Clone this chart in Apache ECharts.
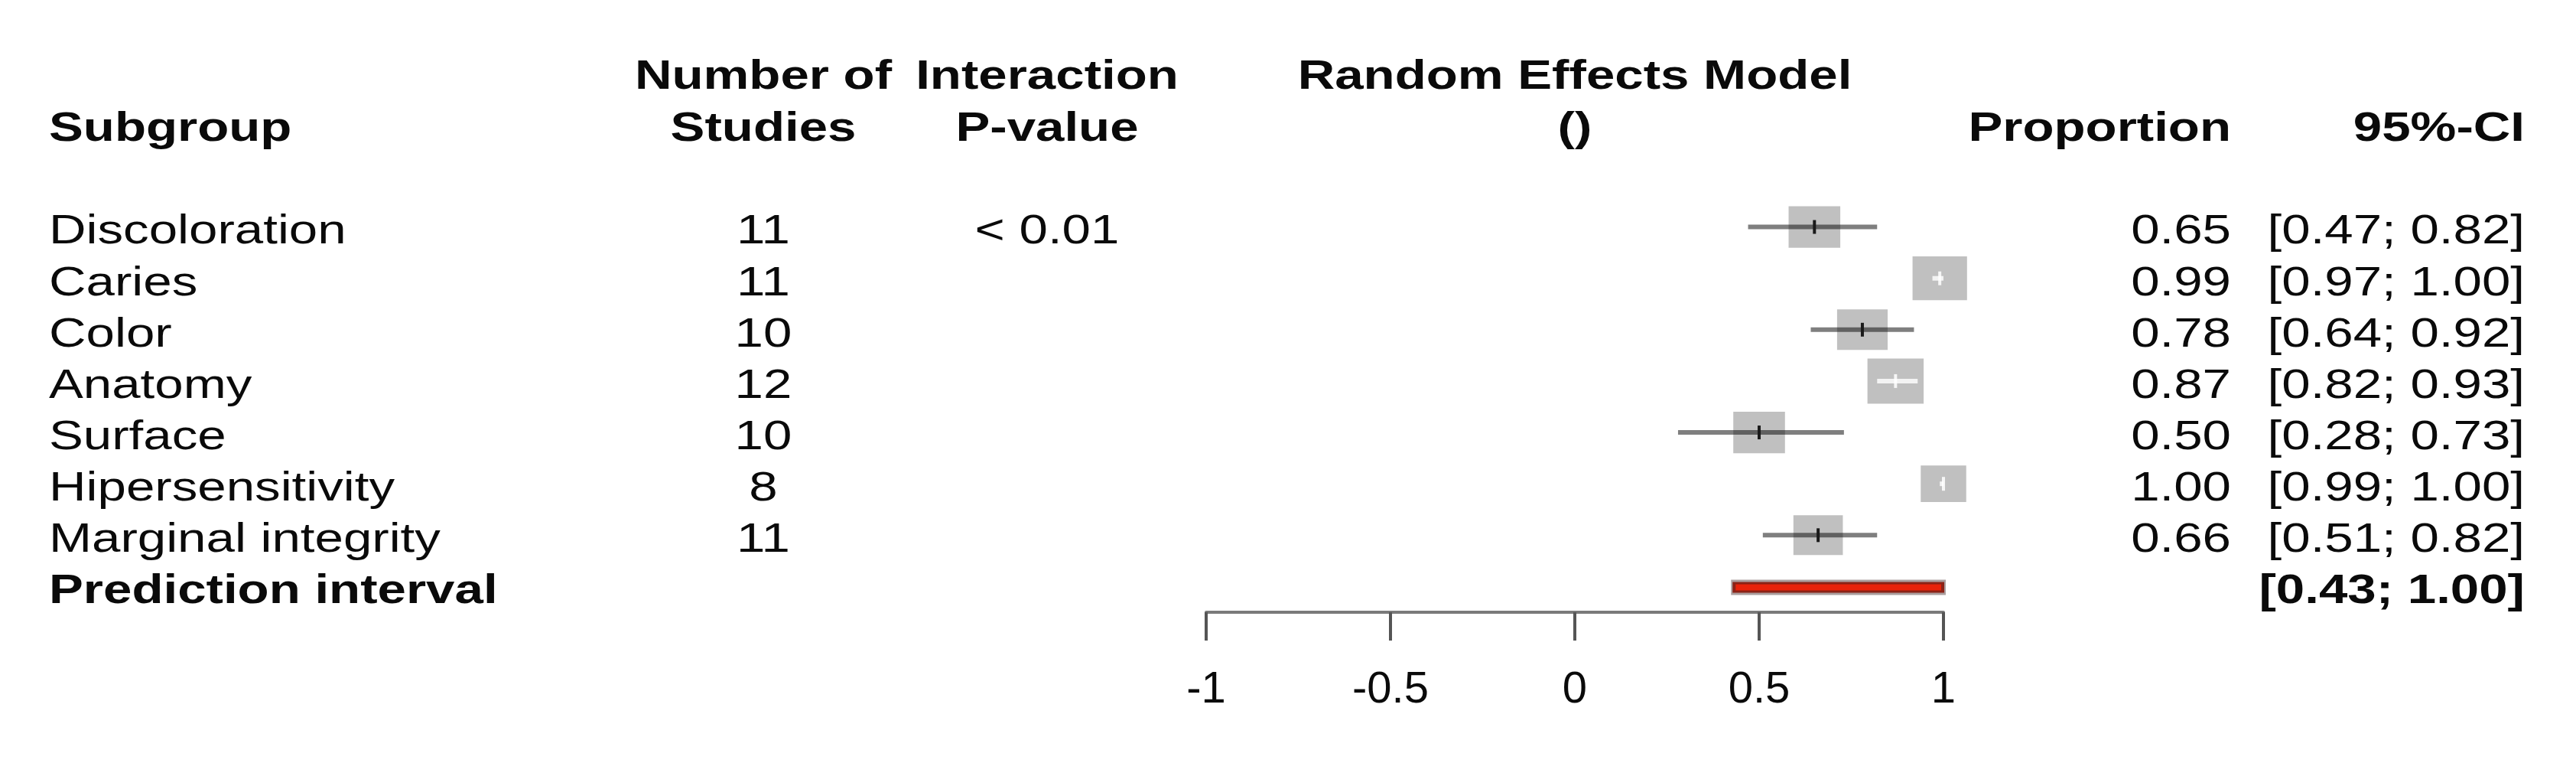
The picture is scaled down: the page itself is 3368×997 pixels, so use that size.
<!DOCTYPE html>
<html>
<head>
<meta charset="utf-8">
<style>
html,body{margin:0;padding:0;background:#ffffff;}
#chart{width:3368px;height:997px;}
</style>
<script src="https://cdn.jsdelivr.net/npm/echarts@6/dist/echarts.min.js"></script>
</head>
<body>
<div id="chart"></div>
<script>
// ---------------- data ----------------
const subgroups = ['Discoloration', 'Caries', 'Color', 'Anatomy', 'Surface', 'Hipersensitivity', 'Marginal integrity'];
const studies = [11, 11, 10, 12, 10, 8, 11];
const interactionP = ['< 0.01', '', '', '', '', '', ''];
const proportion = [0.65, 0.99, 0.78, 0.87, 0.50, 1.00, 0.66];
const ciLower = [0.47, 0.97, 0.64, 0.82, 0.28, 0.99, 0.51];
const ciUpper = [0.82, 1.00, 0.92, 0.93, 0.73, 1.00, 0.82];
const relWeight = [0.92, 0.97, 0.90, 1.00, 0.92, 0.81, 0.88];
const predLabel = 'Prediction interval';
const predInterval = [0.43, 1.00];
const xTickValues = [-1, -0.5, 0, 0.5, 1];
const headerTop = ['Number of', 'Interaction', 'Random Effects Model'];
const headerBottom = ['Subgroup', 'Studies', 'P-value', '()', 'Proportion', '95%-CI'];

// ---------------- layout / style ----------------
const rows = subgroups.concat([predLabel]);
const FONT = "'Liberation Sans', Arial, Helvetica, sans-serif";
const FS = 54;
const SX = 1.245;           // horizontal stretch of the reference
const TXT = '#0a0a0a';
const COL = { name: 64, studies: 998, p: 1369, model: 2059, prop: 2917, ci: 3301 };
const HEAD_Y1 = 101, HEAD_Y2 = 169;

function txt(x, y, text, align, bold) {
  return {
    type: 'text', x: x, y: y, scaleX: SX, silent: true,
    style: {
      text: text, x: 0, y: 0, fill: TXT, fontSize: FS, fontFamily: FONT,
      fontWeight: bold ? 'bold' : 'normal', align: align, verticalAlign: 'middle'
    }
  };
}

const fmt2 = v => v.toFixed(2);
const fmtCI = (a, b) => '[' + fmt2(a) + '; ' + fmt2(b) + ']';

const chart = echarts.init(document.getElementById('chart'), null, { renderer: 'canvas' });

const option = {
  backgroundColor: '#ffffff',
  animation: false,
  grid: { left: 1577, width: 964, top: 263, height: 537, containLabel: false },
  xAxis: {
    type: 'value', min: -1, max: 1, interval: 0.5, position: 'bottom',
    axisLine: { show: true, lineStyle: { color: '#7a7a7a', width: 4 } },
    axisTick: { show: true, length: 37, lineStyle: { color: '#555555', width: 4 } },
    axisLabel: {
      show: true, margin: 73, color: TXT, fontSize: 58, fontFamily: FONT,
      formatter: v => (xTickValues.indexOf(v) >= 0 ? String(v) : '')
    },
    splitLine: { show: false }
  },
  yAxis: {
    type: 'category', data: rows, inverse: true, show: false,
    boundaryGap: true
  },
  graphic: {
    elements: [
      txt(COL.name, HEAD_Y2, headerBottom[0], 'left', true),
      txt(COL.studies, HEAD_Y1, headerTop[0], 'center', true),
      txt(COL.studies, HEAD_Y2, headerBottom[1], 'center', true),
      txt(COL.p, HEAD_Y1, headerTop[1], 'center', true),
      txt(COL.p, HEAD_Y2, headerBottom[2], 'center', true),
      txt(COL.model, HEAD_Y1, headerTop[2], 'center', true),
      txt(COL.model, HEAD_Y2, headerBottom[3], 'center', true),
      txt(COL.prop, HEAD_Y2, headerBottom[4], 'right', true),
      txt(COL.ci, HEAD_Y2, headerBottom[5], 'right', true)
    ]
  },
  series: [
    {
      // table text columns
      name: 'table', type: 'custom', clip: false, silent: true,
      encode: { x: 0, y: 1 },
      data: rows.map((r, i) => [0, i]),
      renderItem: function (params, api) {
        const i = api.value(1);
        const y = api.coord([0, i])[1] + 7;
        if (i < subgroups.length) {
          const kids = [
            txt(COL.name, y, subgroups[i], 'left', false),
            txt(COL.studies, y, String(studies[i]), 'center', false),
            txt(COL.prop, y, fmt2(proportion[i]), 'right', false),
            txt(COL.ci, y, fmtCI(ciLower[i], ciUpper[i]), 'right', false)
          ];
          if (interactionP[i]) kids.push(txt(COL.p, y, interactionP[i], 'center', false));
          return { type: 'group', children: kids };
        }
        return {
          type: 'group', children: [
            txt(COL.name, y, predLabel, 'left', true),
            txt(COL.ci, y, fmtCI(predInterval[0], predInterval[1]), 'right', true)
          ]
        };
      }
    },
    {
      // subgroup estimates with CI
      name: 'estimates', type: 'custom', clip: false, silent: true,
      encode: { x: [0, 1, 2], y: 3 },
      data: subgroups.map((s, i) => [proportion[i], ciLower[i], ciUpper[i], i, relWeight[i]]),
      renderItem: function (params, api) {
        const p = api.value(0), lo = api.value(1), hi = api.value(2), r = api.value(3), w = api.value(4);
        const c = api.coord([p, r]);
        const l = api.coord([lo, r]);
        const h = api.coord([hi, r]);
        const bh = 59 * w;
        const bw = bh * SX;
        const inside = l[0] >= c[0] - bw / 2 && h[0] <= c[0] + bw / 2;
        const lineCol = inside ? 'rgba(255,255,255,0.8)' : 'rgba(0,0,0,0.5)';
        const tickCol = inside ? 'rgba(255,255,255,0.85)' : '#1a1a1a';
        return {
          type: 'group', children: [
            { type: 'rect', shape: { x: c[0] - bw / 2, y: c[1] - bh / 2, width: bw, height: bh }, style: { fill: '#c0c0c0' } },
            { type: 'line', shape: { x1: l[0], y1: c[1], x2: h[0], y2: c[1] }, style: { stroke: lineCol, lineWidth: 6 } },
            { type: 'line', shape: { x1: c[0], y1: c[1] - 9, x2: c[0], y2: c[1] + 9 }, style: { stroke: tickCol, lineWidth: 4 } }
          ]
        };
      }
    },
    {
      // prediction interval bar
      name: 'prediction', type: 'custom', clip: false, silent: true,
      encode: { x: [0, 1], y: 2 },
      data: [[predInterval[0], predInterval[1], subgroups.length]],
      renderItem: function (params, api) {
        const r = api.value(2);
        const l = api.coord([api.value(0), r]);
        const h = api.coord([api.value(1), r]);
        const y = l[1] + 1;
        return {
          type: 'group', children: [
            { type: 'rect', shape: { x: l[0] - 3, y: y - 10, width: h[0] - l[0] + 6, height: 20 }, style: { fill: '#ab9f9f' } },
            { type: 'rect', shape: { x: l[0] - 1, y: y - 7, width: h[0] - l[0] + 2, height: 14 }, style: { fill: '#8b2317' } },
            { type: 'rect', shape: { x: l[0] + 3, y: y - 4, width: h[0] - l[0] - 6, height: 8 }, style: { fill: '#e8230b' } }
          ]
        };
      }
    }
  ]
};

chart.setOption(option);
</script>
</body>
</html>
